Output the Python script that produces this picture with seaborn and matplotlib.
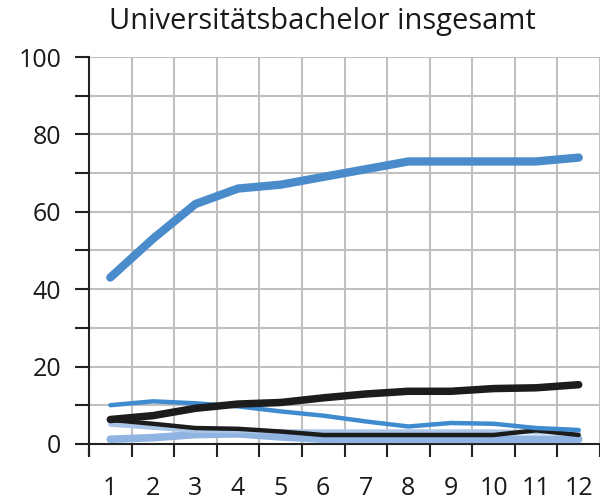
import matplotlib
matplotlib.use("Agg")
import matplotlib.pyplot as plt
import seaborn as sns
import pandas as pd
import numpy as np

semesters = [1, 2, 3, 4, 5, 6, 7, 8, 9, 10, 11, 12]
tick_labels = ["1", "2", "3", "4", "5", "6", "7", "8", "9", "10", "11", "12"]
title = "Universitätsbachelor insgesamt"

blue_main = [43, 53, 62, 66, 67, 69, 71, 73, 73, 73, 73, 74]
blue_thin = [10, 11, 10.5, 9.7, 8.4, 7.3, 5.8, 4.5, 5.4, 5.2, 4.1, 3.6]
black_thick = [6.3, 7.3, 9.2, 10.3, 10.7, 11.9, 12.9, 13.6, 13.6, 14.3, 14.5, 15.3]
black_thin = [6.2, 5.2, 4.1, 3.9, 3.2, 2.3, 2.3, 2.3, 2.3, 2.3, 3.5, 2.3]
light_blue = [1.2, 1.6, 2.4, 2.6, 1.8, 1.2, 1.2, 1.2, 1.2, 1.2, 1.2, 1.2]
pale_blue = [5.0, 4.2, 3.4, 3.3, 3.2, 3.2, 3.2, 3.2, 3.2, 3.2, 3.0, 3.0]

series = [
    ("light", light_blue, "#8fb4e2", 5.5),
    ("pale", pale_blue, "#a8c5e8", 3.2),
    ("black_thin", black_thin, "#1c1c1c", 3.2),
    ("blue_thin", blue_thin, "#3f8bd0", 3.2),
    ("black_thick", black_thick, "#1c1c1c", 5.4),
    ("blue_main", blue_main, "#4a8ccb", 6.0),
]

sns.set_style("white")
plt.rcParams['font.family'] = ['Open Sans', 'DejaVu Sans']

fig = plt.figure(figsize=(6.0, 5.04), dpi=100)
ax = fig.add_axes([89/600, 1 - 455.5/504, 1 - 89/600, (455.5 - 57)/504])

for name, vals, col, lw in series:
    df = pd.DataFrame({"x": semesters, "y": vals})
    sns.lineplot(data=df, x="x", y="y", ax=ax, color=col, linewidth=lw,
                 solid_capstyle="round", solid_joinstyle="round", clip_on=False, zorder=3)

ax.set_xlim(0.5, 0.5 + (600 - 89) / 43.15)
ax.set_ylim(-3, 100)

# grid
for v in np.arange(10, 101, 10):
    ax.axhline(v, color="#c0c0c0", linewidth=1.5, zorder=1)
for b in np.arange(1.5, 13, 1):
    ax.plot([b, b], [0, 100], color="#c0c0c0", linewidth=1.5, zorder=1)

for s in ["top", "right"]:
    ax.spines[s].set_visible(False)
ax.spines["bottom"].set_position(("data", 0))
ax.spines["bottom"].set_color("#222222")
ax.spines["bottom"].set_linewidth(1.5)
ax.spines["left"].set_color("#222222")
ax.spines["left"].set_linewidth(1.5)

ax.set_yticks([0, 20, 40, 60, 80, 100])
ax.set_yticks([10, 30, 50, 70, 90], minor=True)
ax.set_yticklabels(["0", "20", "40", "60", "80", "100"])
ax.tick_params(axis="y", which="both", direction="out", length=10, width=1.5,
               color="#222222", left=True, pad=10, labelsize=18, labelcolor="#1a1a1a")

ax.set_xticks(np.arange(0.5, 13, 1))
ax.set_xticklabels([""] * len(np.arange(0.5, 13, 1)))
ax.set_xticks(semesters, minor=True)
ax.set_xticklabels(tick_labels, minor=True)
ax.tick_params(axis="x", which="major", direction="out", length=9.5, width=1.5,
               color="#222222", bottom=True)
ax.tick_params(axis="x", which="minor", length=0, pad=23, labelsize=18, labelcolor="#1a1a1a")

ax.set_xlabel("")
ax.set_ylabel("")

fig.text(0.538, 1 - 22/504, title, ha="center", va="center", fontsize=21, color="#1a1a1a")

fig.savefig("out.png", dpi=100)
